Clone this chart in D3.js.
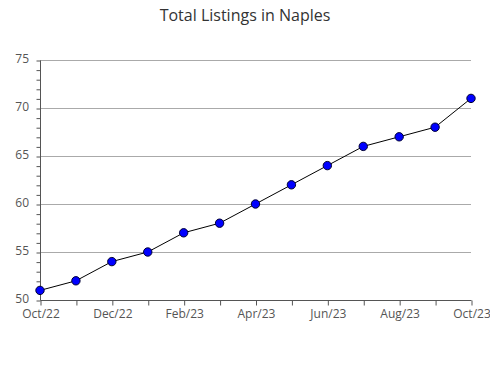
<!DOCTYPE html>
<html>
<head>
<meta charset="utf-8">
<script src="https://cdn.jsdelivr.net/npm/d3@7"></script>
<style>
  body { margin: 0; background: #fff; }
  text { font-family: "Open Sans", "DejaVu Sans", sans-serif; }
</style>
</head>
<body>
<svg id="chart"></svg>
<script>
// data
let months = ['Oct/22', 'Nov/22', 'Dec/22', 'Jan/23', 'Feb/23', 'Mar/23', 'Apr/23',
              'May/23', 'Jun/23', 'Jul/23', 'Aug/23', 'Sep/23', 'Oct/23'];
let listings = [51, 52, 54, 55, 57, 58, 60, 62, 64, 66, 67, 68, 71];
let yTicks = [50, 55, 60, 65, 70, 75];

let width = 490, height = 380;
let plotLeft = 40, plotRight = 471, plotTop = 60, plotBottom = 300;

let svg = d3.select('#chart')
    .attr('width', width)
    .attr('height', height);

let x = d3.scalePoint().domain(months).range([plotLeft, plotRight]);
let y = d3.scaleLinear().domain([50, 75]).range([plotBottom, plotTop]);

// title
svg.append('text')
    .attr('x', 245).attr('y', 21)
    .attr('text-anchor', 'middle')
    .attr('font-size', 16)
    .attr('fill', '#333')
    .text('Total Listings in Naples');

// grid lines
svg.selectAll('line.grid')
    .data(yTicks.slice(1))
    .enter().append('line')
    .attr('class', 'grid')
    .attr('x1', plotLeft).attr('x2', plotRight)
    .attr('y1', d => y(d) + 0.5).attr('y2', d => y(d) + 0.5)
    .attr('stroke', '#aaa');

// y axis with minor ticks
let yAxis = svg.append('g').attr('transform', 'translate(' + (plotLeft + 0.5) + ',0.5)')
    .call(d3.axisLeft(y).ticks(25).tickSize(4).tickFormat(''));
yAxis.select('.domain').attr('stroke', '#555').attr('d', 'M0,' + plotTop + 'V' + plotBottom);
yAxis.selectAll('line').attr('stroke', '#555');

svg.selectAll('text.ylab')
    .data(yTicks)
    .enter().append('text')
    .attr('class', 'ylab')
    .attr('x', 29).attr('y', d => y(d) + 3)
    .attr('text-anchor', 'end')
    .attr('font-size', 12)
    .attr('fill', '#555')
    .text(d => d);

// x axis
let xAxis = svg.append('g').attr('transform', 'translate(0.5,' + (plotBottom + 0.5) + ')')
    .call(d3.axisBottom(x).tickSize(5).tickFormat((d, i) => i % 2 === 0 ? d : ''));
xAxis.select('.domain').attr('stroke', '#555').attr('d', 'M' + plotLeft + ',0H' + plotRight);
xAxis.selectAll('line').attr('stroke', '#555');
xAxis.selectAll('text')
    .attr('font-size', 12)
    .attr('fill', '#555')
    .attr('dy', '0.75em')
    .attr('font-family', '"Open Sans", "DejaVu Sans", sans-serif');

// line
let line = d3.line()
    .x((d, i) => x(months[i]))
    .y(d => y(d));
svg.append('path')
    .datum(listings)
    .attr('d', line)
    .attr('fill', 'none')
    .attr('stroke', '#000')
    .attr('stroke-width', 1);

// points
svg.selectAll('circle')
    .data(listings)
    .enter().append('circle')
    .attr('cx', (d, i) => x(months[i]))
    .attr('cy', d => y(d))
    .attr('r', 4.2)
    .attr('fill', '#0000ff')
    .attr('stroke', '#000033')
    .attr('stroke-width', 1);
</script>
</body>
</html>
